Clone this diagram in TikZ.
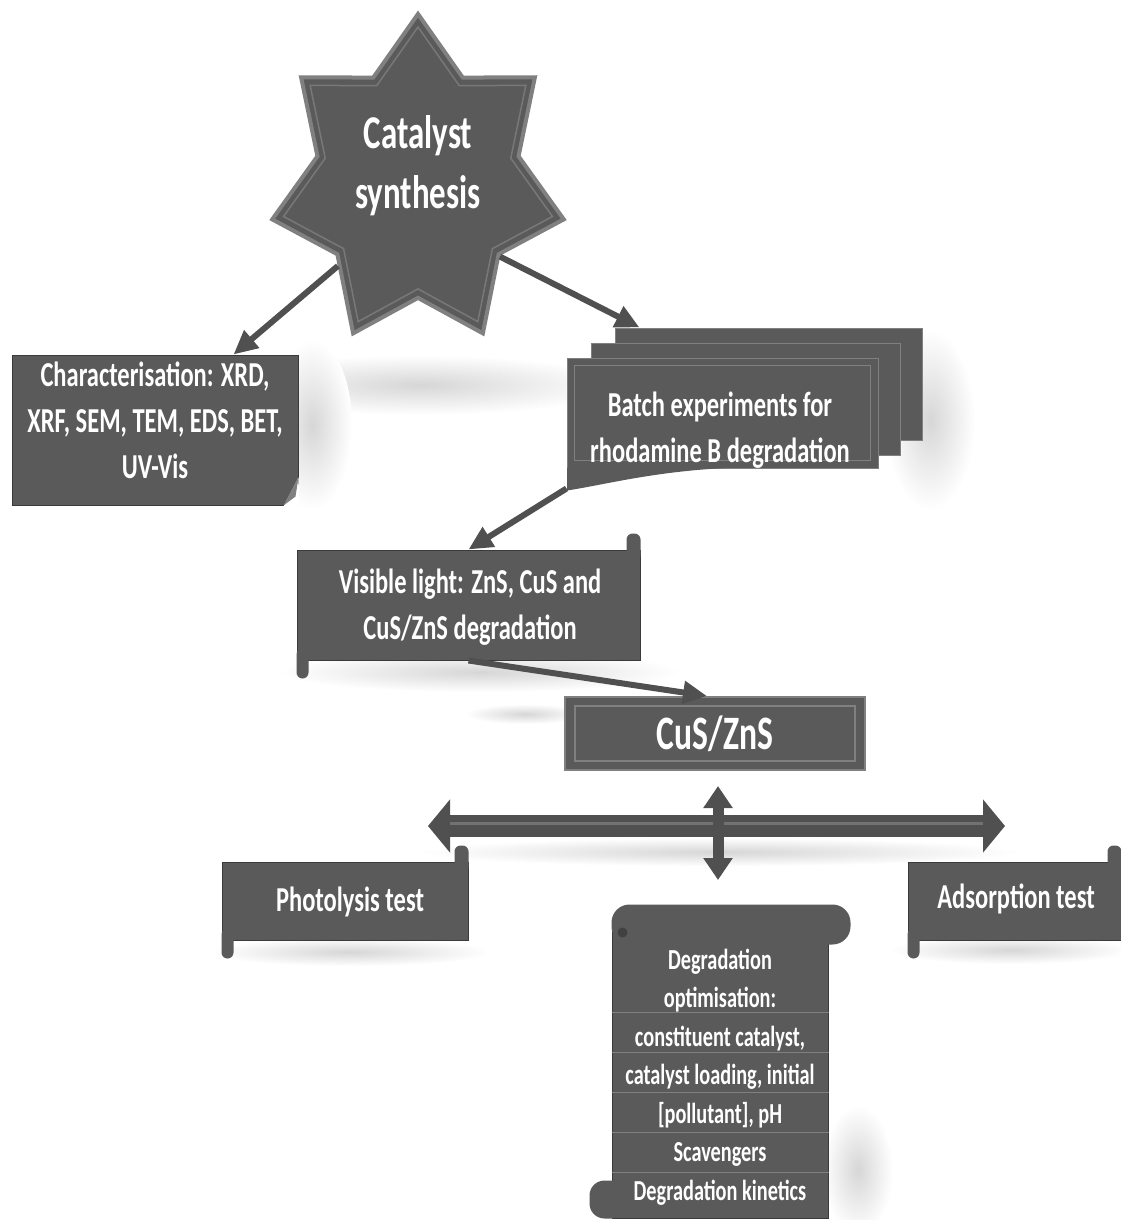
\documentclass[tikz,border=0pt]{standalone}
\usepackage{fontspec}
\setmainfont{Carlito}[FakeStretch=0.7]
\usetikzlibrary{shapes.geometric}
\usetikzlibrary{arrows.meta}
\definecolor{boxgray}{RGB}{90,90,90}
\definecolor{edgegray}{RGB}{128,128,128}
\definecolor{darkgray}{RGB}{58,58,58}
\definecolor{arrowgray}{RGB}{80,80,80}

\begin{document}
\begin{tikzpicture}[x=1pt, y=-1pt,
    box/.style={fill=boxgray, draw=darkgray, line width=1pt, text=white, align=center, inner sep=0pt},
    txt/.style={text=white, align=center, font=\bfseries\fontsize{35}{46}\selectfont},
    starbox/.style={star, star points=7, star point ratio=1.45, transform shape, xscale=0.89, inner sep=0pt},
    shadowblob/.style={inner color=black!16, outer color=white},
    link/.style={draw=arrowgray, line width=6pt, -{Triangle[length=24pt,width=22pt]}},
    bothways/.style 2 args={draw=arrowgray, {Triangle[length=#1,width=#2]}-{Triangle[length=#1,width=#2]}}
  ]
  \useasboundingbox (0,0) rectangle (1121,1220);
  \fill[white] (0,0) rectangle (1121,1220);

  % soft shadows
  \shade[shadowblob] (420,385) ellipse [x radius=200, y radius=30];
  \shade[shadowblob] (312,425) ellipse [x radius=40, y radius=85];
  \shade[shadowblob] (930,420) ellipse [x radius=45, y radius=90];
  \shade[shadowblob] (480,672) ellipse [x radius=200, y radius=20];
  \shade[shadowblob] (525,714) ellipse [x radius=60, y radius=10];
  \shade[shadowblob] (720,852) ellipse [x radius=300, y radius=14];
  \shade[shadowblob] (350,952) ellipse [x radius=140, y radius=14];
  \shade[shadowblob] (1010,950) ellipse [x radius=120, y radius=14];
  \shade[shadowblob] (858,1170) ellipse [x radius=35, y radius=65];

  % star
  \node[starbox, minimum size=336, fill=boxgray, draw=edgegray, line width=4pt] (cat) at (418,182) {};
  \node[starbox, minimum size=310, draw=edgegray!80!boxgray, line width=1.5pt] (catin) at (cat.center) {};
  \node[txt, font=\bfseries\fontsize{47}{60}\selectfont] (catlabel) at (418,166) {Catalyst\\synthesis};

  % characterisation
  \node[box, minimum width=286, minimum height=150] (charbox) at (155,430) {};
  \fill[white] ([yshift=28pt]charbox.south east) -- ([xshift=1pt,yshift=-1pt]charbox.south east) -- ([xshift=-15pt,yshift=-1pt]charbox.south east) -- cycle;
  \fill[edgegray] ([yshift=28pt]charbox.south east) -- ([xshift=-15pt]charbox.south east) -- ([xshift=-3pt,yshift=9pt]charbox.south east) -- cycle;
  \node[txt] (chartext) at (155,420) {Characterisation: XRD,\\XRF, SEM, TEM, EDS, BET,\\UV-Vis};

  % batch experiments
  \node[box, draw=edgegray, minimum width=307, minimum height=112] (batch3) at (768.5,384) {};
  \node[box, draw=edgegray, minimum width=309, minimum height=112] (batch2) at (745.5,399) {};
  \node[box, draw=edgegray, minimum width=311, minimum height=110] (batch) at (722.5,413) {};
  \fill[boxgray] ([xshift=0.5pt,yshift=1pt]batch.south west) -- ([xshift=0.5pt,yshift=-22pt]batch.south west) .. controls ([xshift=40pt,yshift=-16pt]batch.south west) and ([xshift=90pt,yshift=-2pt]batch.south west) .. ([xshift=170pt,yshift=1pt]batch.south west) -- cycle;
  \draw[edgegray, line width=1pt] ([shift={(8pt,-8pt)}]batch.north west) rectangle ([shift={(-8pt,8pt)}]batch.south east);
  \node[txt] (batchtext) at (720,430) {Batch experiments for\\rhodamine B degradation};

  % visible light
  \node[box, minimum width=343, minimum height=110] (vis) at (468.5,605) {};
  \node[txt] (vistext) at (470,607) {Visible light: ZnS, CuS and\\CuS/ZnS degradation};

  % CuS/ZnS
  \node[box, minimum width=300, minimum height=73, draw=edgegray, line width=2pt] (cus) at (715,733.5) {};
  \draw[edgegray, line width=1.2pt] ([shift={(11pt,-10pt)}]cus.north west) rectangle ([shift={(-11pt,10pt)}]cus.south east);
  \node[txt, font=\bfseries\fontsize{48}{56}\selectfont] (custext) at (cus.center) {CuS/ZnS};

  % tests
  \node[box, minimum width=246, minimum height=78] (photo) at (345,901) {};
  \node[txt] (phototext) at (350,902) {Photolysis test};
  \node[box, minimum width=213, minimum height=78] (adsorb) at (1014.5,901) {};
  \node[txt] (adsorbtext) at (1016,899) {Adsorption test};

  \foreach \n in {vis,photo,adsorb}{
    \fill[boxgray, rounded corners=6pt] ([xshift=-14pt,yshift=-12pt]\n.north east) rectangle ([yshift=16pt]\n.north east);
    \fill[boxgray, rounded corners=6pt] ([yshift=12pt]\n.south west) rectangle ([xshift=12pt,yshift=-18pt]\n.south west);
  }

  % degradation scroll
  \node[box, minimum width=216, minimum height=300] (deg) at (720,1068) {};
  \fill[boxgray, rounded corners=18pt] ([yshift=13pt]deg.north west) rectangle ([xshift=22pt,yshift=-27pt]deg.north east);
  \fill[boxgray, rounded corners=15pt] ([xshift=-22pt,yshift=38pt]deg.south west) rectangle ([xshift=15pt]deg.south west);
  \fill[darkgray!80!boxgray] ([xshift=11pt,yshift=-15pt]deg.north west) circle (5pt);
  \foreach \k in {1,...,5}
    \draw[edgegray, line width=1.2pt] ([yshift=-55pt-40pt*\k]deg.north west) -- ([yshift=-55pt-40pt*\k]deg.north east);
  \node[txt, font=\bfseries\fontsize{29}{38.5}\selectfont] (degtext) at (720,1077)
    {Degradation\\optimisation:\\constituent catalyst,\\catalyst loading, initial\\{[pollutant]}, pH\\Scavengers\\Degradation kinetics};

  % connectors
  \draw[link] (cat.223) -- ([xshift=-65pt]charbox.north east);
  \draw[link] (cat.321) -- ([xshift=25pt]batch3.north west);
  \draw[link] ([yshift=-20pt]batch.south west) -- (vis.north);
  \draw[link] (vis.south) -- ([xshift=-8pt]cus.north);

  \coordinate (hl) at (428,826);
  \coordinate (hr) at (1005,826);
  \coordinate (vb) at (718,880);
  \draw[bothways={22pt}{52pt}, line width=22pt] (hl) -- (hr);
  \draw[edgegray!70!arrowgray, line width=3pt] ([xshift=22pt,yshift=3pt]hl) -- ([xshift=-22pt,yshift=3pt]hr);
  \draw[bothways={22pt}{28pt}, line width=11pt] ([xshift=3pt,yshift=-15pt]cus.south) -- (vb);
\end{tikzpicture}
\end{document}
